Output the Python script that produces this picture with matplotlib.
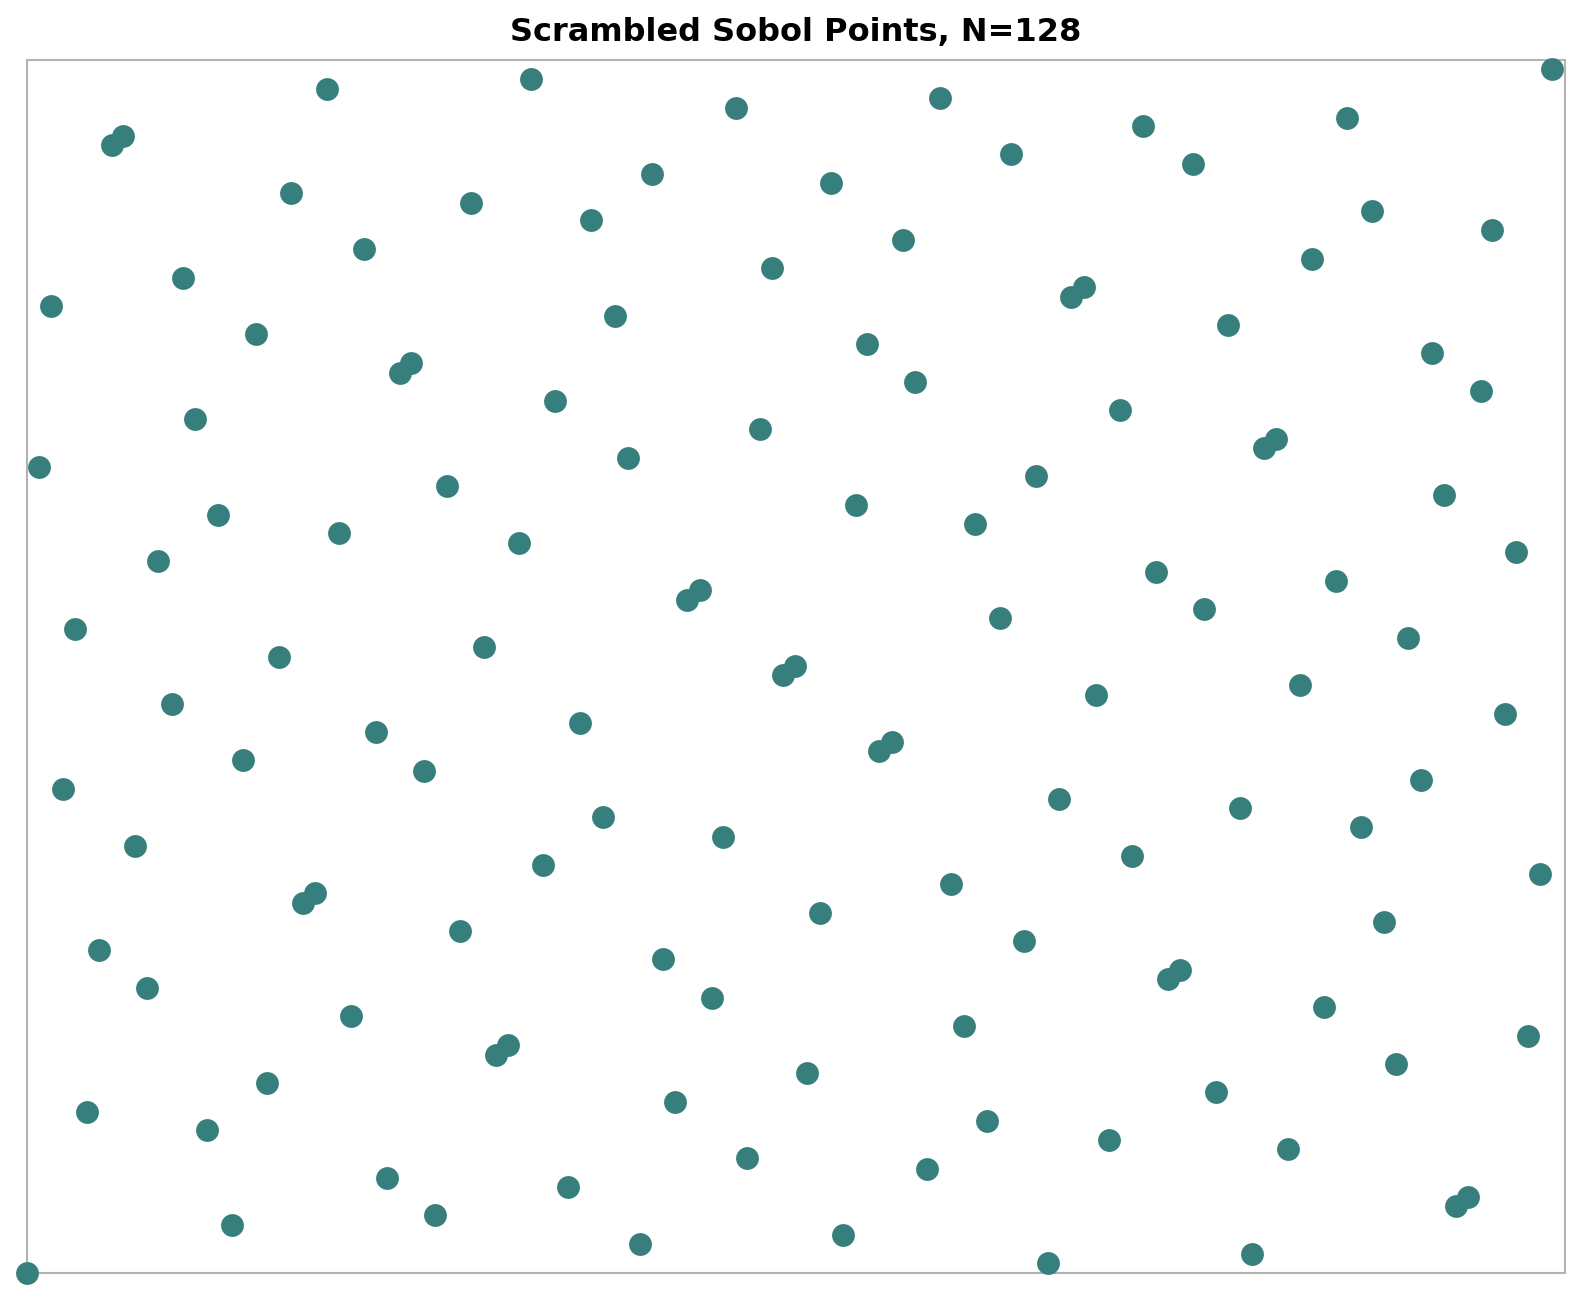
import matplotlib.pyplot as plt
import numpy as np

plt.rcParams['font.family'] = ['DejaVu Sans']

# points (unit square)
x = [0.9913, 0.3278, 0.1950, 0.5939, 0.4611, 0.8586, 0.0623, 0.0551, 0.7259, 0.6401,
     0.7583, 0.4063, 0.5225, 0.1719, 0.2888, 0.8745, 0.3667, 0.9524, 0.5694, 0.2188,
     0.8355, 0.4843, 0.1013, 0.6870, 0.6790, 0.0155, 0.3826, 0.7807, 0.1488, 0.5463,
     0.9134, 0.2499, 0.2426, 0.5774, 0.9451, 0.3436, 0.7107, 0.1092, 0.4763, 0.8124,
     0.8045, 0.3905, 0.0075, 0.6559, 0.2730, 0.9214, 0.5391, 0.1244, 0.6163, 0.2030,
     0.3198, 0.9683, 0.0854, 0.7339, 0.8514, 0.4374, 0.4294, 0.7655, 0.6328, 0.0313,
     0.8982, 0.2974, 0.1640, 0.4994, 0.4915, 0.8276, 0.6949, 0.0940, 0.9610, 0.3595,
     0.2267, 0.5622, 0.5542, 0.1402, 0.2578, 0.9062, 0.0234, 0.6711, 0.7886, 0.3746,
     0.8672, 0.4526, 0.0703, 0.3357, 0.7187, 0.9841, 0.6011, 0.1871, 0.1792, 0.5153,
     0.8824, 0.2815, 0.6480, 0.0465, 0.4136, 0.7497, 0.7418, 0.0782, 0.4453, 0.8435,
     0.2109, 0.6091, 0.9762, 0.3126, 0.3047, 0.8903, 0.5074, 0.1561, 0.7728, 0.4215,
     0.0392, 0.6242, 0.1171, 0.7035, 0.8197, 0.4684, 0.2340, 0.5853, 0.3515, 0.9372,
     0.9293, 0.2650, 0.1330, 0.5305, 0.3984, 0.7966, 0.6639, 0.0000]
y = [0.9925, 0.9842, 0.9758, 0.9691, 0.9607, 0.9524, 0.9373, 0.9297, 0.9457, 0.9222,
     0.9139, 0.9063, 0.8988, 0.8904, 0.8821, 0.8754, 0.8678, 0.8595, 0.8519, 0.8444,
     0.8360, 0.8285, 0.8201, 0.8126, 0.8050, 0.7975, 0.7891, 0.7816, 0.7741, 0.7657,
     0.7582, 0.7506, 0.7423, 0.7347, 0.7272, 0.7188, 0.7113, 0.7038, 0.6954, 0.6879,
     0.6803, 0.6720, 0.6644, 0.6569, 0.6485, 0.6410, 0.6335, 0.6251, 0.6176, 0.6100,
     0.6017, 0.5941, 0.5866, 0.5782, 0.5707, 0.5631, 0.5548, 0.5473, 0.5397, 0.5313,
     0.5238, 0.5163, 0.5079, 0.5004, 0.4928, 0.4845, 0.4769, 0.4694, 0.4610, 0.4535,
     0.4460, 0.4376, 0.4301, 0.4225, 0.4142, 0.4066, 0.3991, 0.3907, 0.3832, 0.3757,
     0.3673, 0.3598, 0.3522, 0.3363, 0.3438, 0.3288, 0.3204, 0.3129, 0.3053, 0.2970,
     0.2894, 0.2819, 0.2735, 0.2660, 0.2585, 0.2501, 0.2426, 0.2350, 0.2267, 0.2191,
     0.2116, 0.2032, 0.1957, 0.1882, 0.1798, 0.1723, 0.1647, 0.1564, 0.1488, 0.1413,
     0.1329, 0.1254, 0.1179, 0.1095, 0.1019, 0.0944, 0.0785, 0.0860, 0.0710, 0.0626,
     0.0551, 0.0475, 0.0392, 0.0316, 0.0241, 0.0157, 0.0082, 0.0000]

fig = plt.figure(figsize=(15.92, 13.02), dpi=100)
ax = fig.add_axes([0.017, 0.0223, 0.966, 0.9316])
ax.scatter(x, y, s=270, color='#377f7c', linewidths=0, clip_on=False, zorder=3)
ax.set_xlim(0, 1)
ax.set_ylim(0, 1)
ax.set_xticks([])
ax.set_yticks([])
for sp in ax.spines.values():
    sp.set_color('#b3b3b3')
    sp.set_linewidth(1.5)
fig.text(0.5, 0.9685, 'Scrambled Sobol Points, N=128', fontsize=23, fontweight='bold',
         ha='center', va='baseline')
fig.savefig('out.png')
